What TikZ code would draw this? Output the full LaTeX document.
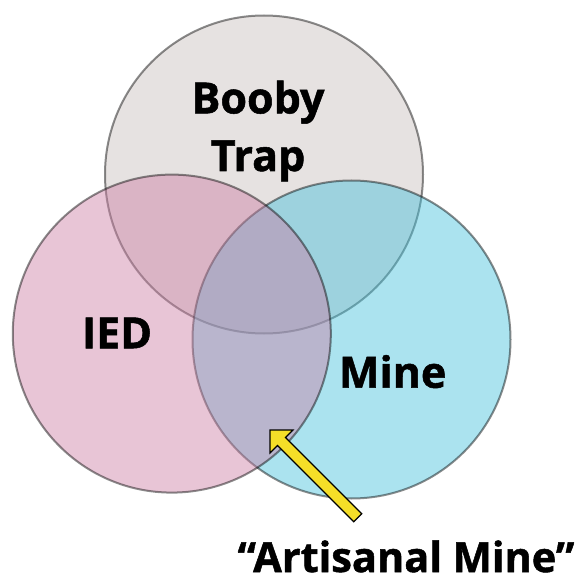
\documentclass[tikz,border=0pt]{standalone}
\usepackage{fontspec}
\setmainfont{Open Sans}[BoldFeatures={FakeBold=1.2}]
\definecolor{btcol}{RGB}{199,190,188}
\definecolor{iedcol}{RGB}{204,126,164}
\definecolor{minecol}{RGB}{68,193,219}
\definecolor{arrowyellow}{RGB}{245,222,40}
\tikzset{
  venn/.style={circle, minimum size=318pt, inner sep=0pt, fill opacity=0.45,
    draw=black, draw opacity=0.45, line width=2pt},
  lbl/.style={font=\bfseries\fontsize{43}{57.6}\selectfont, text=black, inner sep=0pt, align=center},
  yarrow/.style={fill=arrowyellow, draw=black, line width=1.2pt, line join=miter}
}
\begin{document}
\begin{tikzpicture}[x=1pt,y=-1pt]
\useasboundingbox (0,0) rectangle (581,580);
\node[venn, fill=btcol] (bt) at (264,174.5) {};
\node[venn, fill=minecol] (mine) at (351.5,339.5) {};
\node[venn, fill=iedcol] (ied) at (171.8,333.6) {};
\node[lbl, anchor=base] (btl) at (258,171) {Booby\\Trap};
\node[lbl, anchor=base] (iedl) at (117,348.3) {IED};
\node[lbl, anchor=base] (minel) at (392.7,387.7) {Mine};
\node[font=\bfseries\fontsize{41.5}{50}\selectfont, inner sep=0pt, text depth=0pt, anchor=base] (art) at (406,572) {“Artisanal Mine”};
\coordinate (tip) at (270,430);
\coordinate (tail) at (357.7,517.7);
\draw[yarrow] (tip) -- (293,430) -- (285.5,437.5) -- ([shift={(4,-4)}]tail) -- ([shift={(-4,4)}]tail) -- (277.5,445.5) -- (270,453) -- cycle;
\end{tikzpicture}
\end{document}
